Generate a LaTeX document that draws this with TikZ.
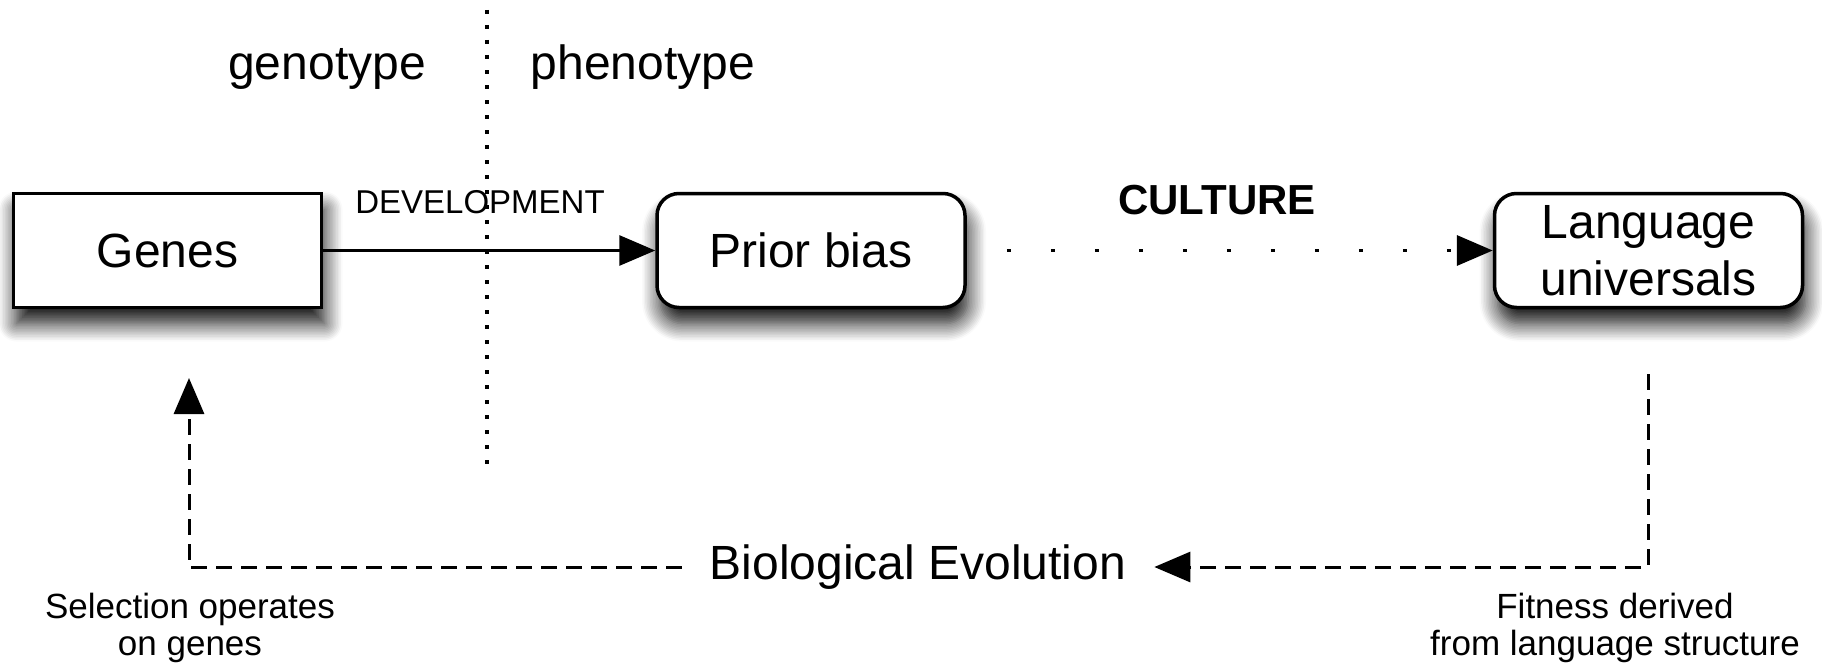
\documentclass[tikz,border=0pt]{standalone}
\usepackage{fontspec}
\setmainfont{Liberation Sans}
\usetikzlibrary{positioning,arrows.meta,shadows.blur}
\tikzset{
  box/.style={rectangle, draw=black, line width=3.5pt, fill=white, minimum width=308pt, minimum height=114pt, align=center, font=\fontsize{48}{57}\selectfont, blur shadow={shadow xshift=3pt, shadow yshift=-16pt, shadow blur radius=18pt, shadow blur steps=12, shadow opacity=95}},
  rbox/.style={box, rounded corners=22pt},
  lbl/.style={font=\fontsize{48}{54}\selectfont, inner sep=0pt},
  note/.style={font=\fontsize{35}{37}\selectfont, align=center, inner sep=0pt},
  connect/.style={-{Triangle[length=36pt,width=30pt]}, line width=3pt},
  culture/.style={connect, line width=3.5pt, dash pattern=on 4pt off 40pt, dash phase=4pt},
  evo/.style={line width=3pt, dash pattern=on 16pt off 9pt},
  divider/.style={line width=3.5pt, dash pattern=on 4pt off 11pt}
}
\begin{document}
\begin{tikzpicture}[x=1pt,y=-1pt]
  \useasboundingbox (0,0) rectangle (1822,669);

  % Genotype / phenotype divide
  \coordinate (divtop) at (487,10);
  \coordinate (divbot) at (487,470);
  \draw[divider] (divtop) -- (divbot);
  \node[lbl, anchor=base] (geno) at (327,79) {genotype};
  \node[lbl, anchor=base] (pheno) at (643,79) {phenotype};

  % Boxes
  \node[box] (genes) at (167.5,250.5) {Genes};
  \node[rbox, right=332pt of genes] (prior) {Prior bias};
  \node[rbox, right=526pt of prior] (lang) {Language\\universals};

  % Top arrows
  \draw[connect] (genes) -- (prior);
  \draw[culture] (prior) -- (lang);
  \node[lbl, anchor=base, font=\fontsize{33}{36}\selectfont] (dev) at (480,213) {DEVELOPMENT};
  \node[lbl, anchor=base, font=\fontsize{42}{46}\selectfont\bfseries] (cult) at (1217,214) {CULTURE};

  % Biological evolution loop
  \node[lbl, inner xsep=28pt] (bio) at (918,567) {Biological Evolution};
  \coordinate (fit) at (1648,374);
  \coordinate (sel) at (189,378);
  \draw[evo, -{Triangle[length=36pt,width=30pt]}] (fit) |- (bio.east);
  \draw[evo, -{Triangle[length=36pt,width=30pt]}] (bio.west) -| (sel);

  \node[note] (seltxt) at (190,628) {Selection operates\\on genes};
  \node[note] (fittxt) at (1615,628) {Fitness derived\\from language structure};
\end{tikzpicture}
\end{document}
